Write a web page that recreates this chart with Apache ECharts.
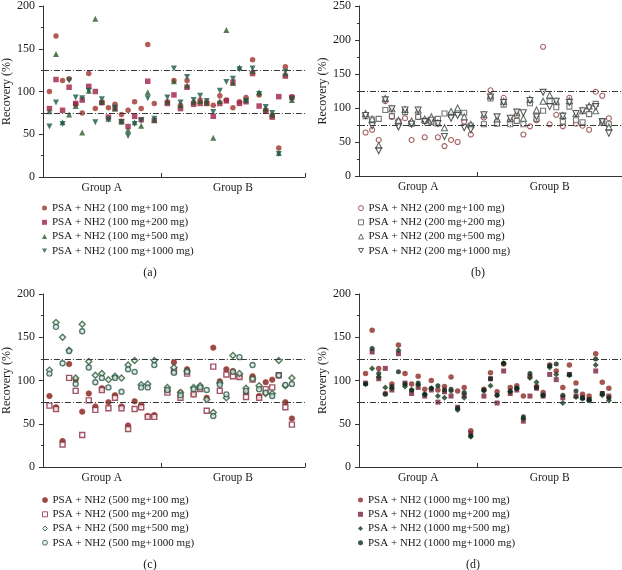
<!DOCTYPE html>
<html>
<head>
<meta charset="utf-8">
<script src="https://cdn.jsdelivr.net/npm/echarts@6/dist/echarts.min.js"></script>
<style>
  html, body { margin: 0; padding: 0; background: #fff; }
  #main { width: 622px; height: 570px; }
</style>
</head>
<body>
<div id="main"></div>
<script>
// sample positions on the x axis (group A: 1-17, group B: 19-38)
var xPos = [1, 2, 3, 4, 5, 6, 7, 8, 9, 10, 11, 12, 13, 14, 15, 16, 17,
            19, 20, 21, 22, 23, 24, 25, 26, 27, 28, 29, 30, 31, 32, 33, 34, 35, 36, 37, 38];
var groupLabels = ['Group A', 'Group B'];
var groupCenters = [9, 29];
var groupTicks = [18, 40];
var refLines = [75, 125];
var captions = ['(a)', '(b)', '(c)', '(d)'];

// (a) PSA 100 mg
var namesA = ['PSA + NH2 (100 mg+100 mg)', 'PSA + NH2 (100 mg+200 mg)', 'PSA + NH2 (100 mg+500 mg)', 'PSA + NH2 (100 mg+1000 mg)'];
var a100  = [100, 165, 113, 115, 85, 75, 121, 80, 87, 81, 85, 73, 78, 88, 80, 155, 86,
             88, 113, 84, 113, 87, 90, 87, 84, 95, 90, 81, 88, 93, 137, 96, 78, 72, 34, 129, 94];
var a200  = [80, 114, 78, 105, 86, 90, 106, 100, 87, 70, 80, 65, 59, 71, 67, 112, 66,
             86, 96, 80, 105, 85, 86, 86, 71, 86, 89, 111, 86, 88, 121, 83, 77, 70, 94, 118, 93];
var a500  = [77, 144, 64, 73, 83, 52, 101, 185, 88, 68, 80, 65, 55, 64, 60, 99, 67,
             88, 112, 84, 107, 88, 89, 87, 46, 89, 172, 110, 128, 90, 124, 99, 80, 73, 28, 121, 90];
var a1000 = [59, 87, 62, 113, 93, 92, 101, 64, 91, 67, 81, 64, 48, 62, 66, 92, 68,
             93, 127, 87, 117, 90, 95, 89, 76, 101, 111, 115, 126, 89, 127, 97, 82, 75, 27, 123, 91];

// (b) PSA 200 mg
var namesB = ['PSA + NH2 (200 mg+100 mg)', 'PSA + NH2 (200 mg+200 mg)', 'PSA + NH2 (200 mg+500 mg)', 'PSA + NH2 (200 mg+1000 mg)'];
var b100  = [64, 68, 53, 110, 87, 81, 85, 53, 87, 57, 79, 57, 44, 53, 50, 80, 61,
             86, 126, 80, 115, 81, 89, 61, 73, 82, 190, 76, 90, 73, 115, 77, 74, 68, 124, 118, 85];
var b200  = [88, 83, 84, 97, 88, 79, 94, 77, 87, 81, 80, 84, 92, 90, 93, 93, 74,
             76, 114, 77, 105, 76, 81, 76, 107, 84, 96, 110, 101, 80, 102, 82, 79, 91, 106, 80, 76];
var b500  = [92, 84, 45, 114, 99, 82, 98, 81, 97, 84, 87, 78, 71, 95, 100, 87, 76,
             90, 118, 84, 110, 85, 93, 85, 113, 97, 110, 119, 110, 89, 111, 92, 96, 103, 96, 79, 72];
var b1000 = [89, 74, 37, 112, 99, 72, 97, 76, 97, 80, 82, 77, 58, 85, 89, 71, 68,
             90, 116, 87, 108, 85, 94, 93, 111, 87, 123, 102, 110, 88, 108, 92, 96, 100, 102, 80, 63];

// (c) PSA 500 mg
var namesC = ['PSA + NH2 (500 mg+100 mg)', 'PSA + NH2 (500 mg+200 mg)', 'PSA + NH2 (500 mg+500 mg)', 'PSA + NH2 (500 mg+1000 mg)'];
var c100  = [82, 69, 30, 119, 101, 64, 85, 70, 91, 75, 83, 70, 48, 76, 72, 59, 60,
             88, 121, 86, 113, 84, 91, 80, 138, 99, 113, 111, 105, 86, 105, 82, 98, 101, 106, 75, 56];
var c200  = [71, 67, 26, 103, 88, 37, 77, 66, 89, 68, 80, 68, 44, 67, 69, 58, 58,
             86, 111, 80, 108, 84, 90, 65, 116, 88, 107, 105, 104, 81, 101, 80, 90, 92, 106, 69, 49];
var c500  = [112, 167, 150, 135, 103, 165, 122, 106, 108, 101, 105, 103, 118, 123, 95, 96, 123,
             92, 115, 86, 111, 92, 94, 78, 63, 97, 80, 129, 108, 91, 102, 94, 85, 85, 123, 94, 103];
var c1000 = [108, 162, 120, 134, 96, 157, 115, 98, 103, 92, 103, 87, 113, 110, 92, 92, 118,
             89, 109, 83, 110, 90, 92, 89, 59, 95, 84, 110, 127, 88, 118, 90, 86, 82, 106, 95, 96];

// (d) PSA 1000 mg
var namesD = ['PSA + NH2 (1000 mg+100 mg)', 'PSA + NH2 (1000 mg+200 mg)', 'PSA + NH2 (1000 mg+500 mg)', 'PSA + NH2 (1000 mg+1000 mg)'];
var d100  = [108, 158, 114, 85, 96, 141, 108, 96, 105, 90, 100, 89, 93, 104, 88, 92, 42,
             90, 109, 87, 119, 92, 94, 82, 105, 93, 86, 118, 111, 92, 118, 97, 84, 82, 131, 98, 91];
var d200  = [97, 133, 102, 114, 89, 131, 97, 85, 92, 82, 89, 75, 87, 82, 69, 83, 39,
             82, 102, 74, 111, 85, 89, 53, 82, 91, 82, 107, 101, 80, 107, 82, 80, 78, 111, 85, 82];
var d500  = [96, 114, 104, 92, 91, 135, 93, 89, 95, 84, 91, 82, 80, 88, 66, 80, 35,
             88, 94, 83, 120, 87, 91, 56, 103, 98, 83, 115, 107, 74, 106, 81, 79, 77, 118, 83, 77];
var d1000 = [96, 137, 108, 84, 93, 110, 96, 89, 97, 84, 91, 94, 89, 90, 68, 86, 36,
             89, 102, 83, 120, 88, 91, 58, 108, 92, 83, 117, 119, 83, 107, 88, 80, 78, 125, 85, 80];

var FONT = 'Liberation Serif';
var TXT = '#1a1a1a';
var triDown = 'path://M0,0L10,0L5,9Z';

var panels = [
    { names: namesA, values: [a100, a200, a500, a1000], yMax: 200,
      grid: { left: 42, top: 4, width: 263, height: 173 },
      legend: { left: 42, top: 201 }, caption: [150, 273],
      styles: [
          { symbol: 'circle', size: 5.5, item: { color: '#a0322a' } },
          { symbol: 'rect', size: 5.5, item: { color: '#9e2046' } },
          { symbol: 'triangle', size: 6, item: { color: '#2c5a2c' } },
          { symbol: triDown, size: 6, item: { color: '#1b5a48' } }
      ] },
    { names: namesB, values: [b100, b200, b500, b1000], yMax: 250,
      grid: { left: 359, top: 4, width: 263, height: 172 },
      legend: { left: 358, top: 201 }, caption: [478, 273],
      styles: [
          { symbol: 'circle', size: 5, item: { color: '#fff', borderColor: '#8e3a3a', borderWidth: 1.1 } },
          { symbol: 'rect', size: 5, item: { color: '#fff', borderColor: '#555', borderWidth: 1.1 } },
          { symbol: 'triangle', size: 6, item: { color: '#fff', borderColor: '#3b4f45', borderWidth: 1.1 } },
          { symbol: triDown, size: 6, item: { color: '#fff', borderColor: '#333', borderWidth: 1.1 } }
      ] },
    { names: namesC, values: [c100, c200, c500, c1000], yMax: 200,
      grid: { left: 42, top: 294, width: 263, height: 173 },
      legend: { left: 42, top: 493 }, caption: [150, 565],
      styles: [
          { symbol: 'circle', size: 5.5, item: { color: '#7e1d1d', borderColor: '#a8402e', borderWidth: 0.8 } },
          { symbol: 'rect', size: 5, item: { color: '#fff', borderColor: '#8b2a40', borderWidth: 1.4 } },
          { symbol: 'diamond', size: 6, item: { color: '#e4eee4', borderColor: '#2e5a3a', borderWidth: 1.4 } },
          { symbol: 'circle', size: 5, item: { color: '#d8e6e0', borderColor: '#2e5a4e', borderWidth: 1.4 } }
      ] },
    { names: namesD, values: [d100, d200, d500, d1000], yMax: 200,
      grid: { left: 359, top: 294, width: 263, height: 173 },
      legend: { left: 358, top: 493 }, caption: [473, 565],
      styles: [
          { symbol: 'circle', size: 5.5, item: { color: '#8e2a24' } },
          { symbol: 'rect', size: 5, item: { color: '#7a1f3a' } },
          { symbol: 'diamond', size: 6, item: { color: '#123a1e' } },
          { symbol: 'circle', size: 5, item: { color: '#0e2a1c' } }
      ] }
];

var option = {
    animation: false,
    backgroundColor: '#fff',
    grid: [], xAxis: [], yAxis: [], legend: [], series: [], graphic: []
};

panels.forEach(function (p, k) {
    option.grid.push(p.grid);
    option.xAxis.push({
        gridIndex: k, type: 'value', min: 0, max: 40,
        axisLine: { lineStyle: { color: '#333', width: 1 } },
        axisTick: { show: true, inside: true, length: 4, customValues: groupTicks, lineStyle: { color: '#333' } },
        axisLabel: {
            customValues: groupCenters, margin: 5,
            fontFamily: FONT, fontSize: 11.5, color: TXT,
            formatter: function (v) { return groupLabels[groupCenters.indexOf(v)]; }
        },
        splitLine: { show: false }
    });
    option.yAxis.push({
        gridIndex: k, type: 'value', min: 0, max: p.yMax, interval: 50,
        name: 'Recovery (%)', nameLocation: 'middle', nameGap: 23,
        nameTextStyle: { fontFamily: FONT, fontSize: 12, color: TXT },
        axisLine: { show: true, lineStyle: { color: '#333', width: 1 } },
        axisTick: { show: true, length: 4, lineStyle: { color: '#333' } },
        minorTick: { show: true, splitNumber: 2, length: 2, lineStyle: { color: '#333' } },
        axisLabel: { fontFamily: FONT, fontSize: 12, color: TXT, margin: 8 },
        splitLine: { show: false }
    });
    option.legend.push({
        data: p.names, orient: 'vertical', left: p.legend.left, top: p.legend.top,
        itemWidth: 5, itemHeight: 5, itemGap: 0, padding: 0,
        itemStyle: { borderWidth: 1 },
        textStyle: { fontFamily: FONT, fontSize: 11, color: TXT, lineHeight: 14.2 }
    });
    p.names.forEach(function (name, j) {
        var st = p.styles[j];
        var s = {
            name: name, type: 'scatter', xAxisIndex: k, yAxisIndex: k,
            symbol: st.symbol, symbolSize: st.size, itemStyle: st.item,
            data: xPos.map(function (x, i) { return [x, p.values[j][i]]; })
        };
        if (j === 0) {
            s.markLine = {
                silent: true, symbol: 'none', label: { show: false },
                lineStyle: { color: '#3a3a3a', width: 1, type: [6, 2, 1, 2] },
                data: refLines.map(function (v) { return { yAxis: v }; })
            };
        }
        option.series.push(s);
    });
    option.graphic.push({
        type: 'text', x: p.caption[0], y: p.caption[1],
        style: { text: captions[k], textAlign: 'center', textVerticalAlign: 'middle',
                 font: '12px "' + FONT + '"', fill: TXT }
    });
});

echarts.init(document.getElementById('main')).setOption(option);
</script>
</body>
</html>
